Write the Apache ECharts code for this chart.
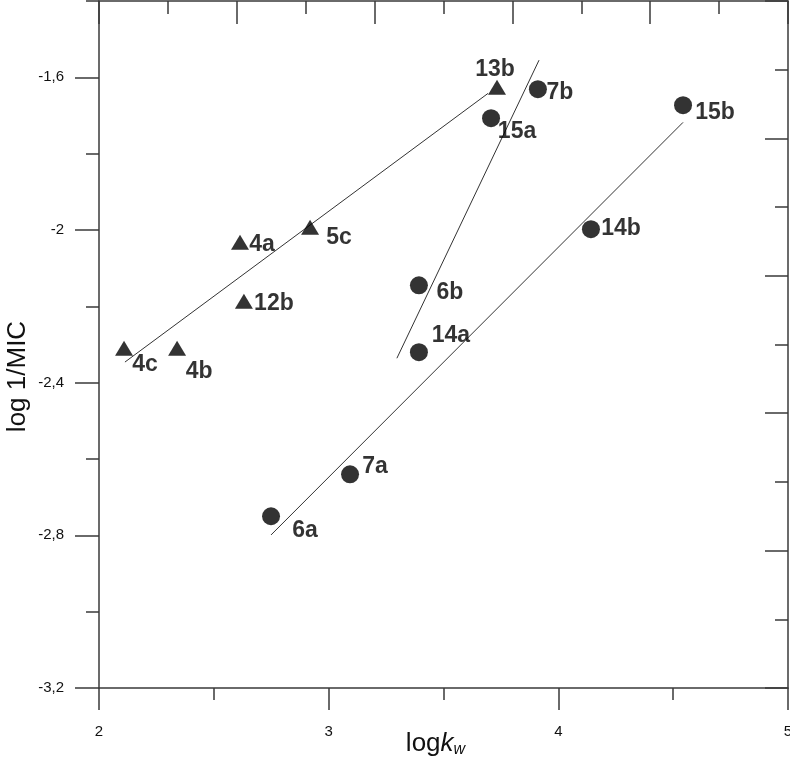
<!DOCTYPE html>
<html>
<head>
<meta charset="utf-8">
<script src="https://cdn.jsdelivr.net/npm/echarts@6/dist/echarts.min.js"></script>
<style>
html,body{margin:0;padding:0;background:#fff;}
#chart{width:790px;height:760px;}
</style>
</head>
<body>
<div id="chart"></div>
<script>
// ---- data ----
const triLabels = ['4c', '4b', '4a', '12b', '5c', '13b'];
const triX = [2.109, 2.340, 2.614, 2.631, 2.919, 3.733];
const triY = [-2.310, -2.310, -2.032, -2.187, -1.993, -1.626];

const cirLabels = ['15a', '7b', '15b', '14b', '6b', '14a', '7a', '6a'];
const cirX = [3.707, 3.911, 4.543, 4.142, 3.393, 3.393, 3.093, 2.749];
const cirY = [-1.707, -1.631, -1.673, -1.998, -2.145, -2.320, -2.640, -2.750];

const fit1X = [2.113, 3.694];
const fit1Y = [-2.346, -1.642];
const fit2X = [3.297, 3.916];
const fit2Y = [-2.336, -1.555];
const fit3X = [2.749, 4.543];
const fit3Y = [-2.799, -1.718];

const yMajorTicks = [-3.2, -2.8, -2.4, -2, -1.6];
const yMinorTicks = [-3.0, -2.6, -2.2, -1.8, -1.4];

// ---- layout (label offsets in px, not data) ----
const labelOffset = {
  '4c': [21, 16], '4b': [22, 23], '4a': [22, 2], '12b': [30, 2], '5c': [29, 10], '13b': [-2, -18],
  '15a': [26, 13], '7b': [22, 3], '15b': [32, 7], '14b': [30, -1], '6b': [31, 7], '14a': [32, -16],
  '7a': [25, -8], '6a': [34, 14]
};

const FONT = '"Liberation Sans", Arial, sans-serif';
const AXIS_COLOR = '#3a3a3a';
const TEXT_COLOR = '#111';

function pts(labels, xs, ys) {
  return labels.map((n, i) => ({
    name: n,
    value: [xs[i], ys[i]],
    label: { offset: labelOffset[n] }
  }));
}
function linePts(xs, ys) { return xs.map((x, i) => [x, ys[i]]); }

const markLabel = {
  show: true,
  position: 'inside',
  formatter: p => p.name,
  color: '#000',
  fontFamily: FONT,
  fontWeight: 'bold',
  fontSize: 23,
  align: 'center',
  verticalAlign: 'middle'
};

const fitStyle = { color: '#333', width: 1 };

const chart = echarts.init(document.getElementById('chart'), null, { renderer: 'canvas' });
chart.setOption({
  animation: false,
  backgroundColor: '#fff',
  grid: { left: 99, right: 2, top: 1, bottom: 72, containLabel: false, outerBoundsMode: 'none' },
  xAxis: [
    {
      type: 'value', position: 'bottom', min: 2, max: 5, interval: 1,
      axisLine: { show: true, lineStyle: { color: AXIS_COLOR, width: 1.5 } },
      axisTick: { show: true, inside: false, length: 22, lineStyle: { color: AXIS_COLOR, width: 1.5 } },
      minorTick: { show: true, splitNumber: 2, length: 12, lineStyle: { color: AXIS_COLOR, width: 1.5 } },
      splitLine: { show: false },
      axisLabel: { margin: 36, fontSize: 15, color: TEXT_COLOR, fontFamily: FONT },
      name: 'log{k|k}{w|w}',
      nameLocation: 'middle',
      nameMoveOverlap: false,
      nameGap: 41,
      nameTextStyle: {
        fontSize: 26, color: TEXT_COLOR, fontFamily: FONT, padding: [0, 16, 0, 0],
        rich: {
          k: { fontSize: 26, fontStyle: 'italic', color: TEXT_COLOR, fontFamily: FONT },
          w: { fontSize: 16, fontStyle: 'italic', color: TEXT_COLOR, fontFamily: FONT, verticalAlign: 'bottom', padding: [13, 0, 0, 0] }
        }
      }
    },
    {
      type: 'value', position: 'top', min: 0, max: 5, interval: 1,
      axisLine: { show: true, lineStyle: { color: AXIS_COLOR, width: 1.5 } },
      axisTick: { show: true, inside: true, length: 23, lineStyle: { color: AXIS_COLOR, width: 1.5 } },
      minorTick: { show: true, splitNumber: 2, length: 13, lineStyle: { color: AXIS_COLOR, width: 1.5 } },
      splitLine: { show: false },
      axisLabel: { show: false }
    }
  ],
  yAxis: [
    {
      type: 'value', position: 'left', min: -3.2, max: -1.4, interval: 0.2,
      axisLine: { show: true, lineStyle: { color: AXIS_COLOR, width: 1.5 } },
      axisTick: { show: true, inside: false, length: 24, customValues: yMajorTicks, lineStyle: { color: AXIS_COLOR, width: 1.5 } },
      splitLine: { show: false },
      axisLabel: {
        customValues: yMajorTicks,
        margin: 35, fontSize: 15, color: TEXT_COLOR, fontFamily: FONT,
        formatter: v => String(Math.round(v * 10) / 10).replace('.', ',')
      },
      name: 'log 1/MIC',
      nameLocation: 'middle',
      nameMoveOverlap: false,
      nameRotate: 90,
      nameGap: 68,
      nameTextStyle: { fontSize: 26, color: TEXT_COLOR, fontFamily: FONT, padding: [0, 64, 0, 0] }
    },
    {
      type: 'value', position: 'left', min: -3.2, max: -1.4, interval: 0.2,
      axisLine: { show: false },
      axisTick: { show: true, inside: false, length: 13, customValues: yMinorTicks, lineStyle: { color: AXIS_COLOR, width: 1.5 } },
      splitLine: { show: false },
      axisLabel: { show: false }
    },
    {
      type: 'value', position: 'right', min: 0, max: 5, interval: 1,
      axisLine: { show: true, lineStyle: { color: AXIS_COLOR, width: 1.5 } },
      axisTick: { show: true, inside: true, length: 23, lineStyle: { color: AXIS_COLOR, width: 1.5 } },
      minorTick: { show: true, splitNumber: 2, length: 13, lineStyle: { color: AXIS_COLOR, width: 1.5 } },
      splitLine: { show: false },
      axisLabel: { show: false }
    }
  ],
  series: [
    { type: 'line', data: linePts(fit1X, fit1Y), showSymbol: false, symbol: 'none', lineStyle: fitStyle, z: 2, silent: true },
    { type: 'line', data: linePts(fit2X, fit2Y), showSymbol: false, symbol: 'none', lineStyle: fitStyle, z: 2, silent: true },
    { type: 'line', data: linePts(fit3X, fit3Y), showSymbol: false, symbol: 'none', lineStyle: fitStyle, z: 2, silent: true },
    {
      type: 'scatter', data: pts(triLabels, triX, triY),
      symbol: 'triangle', symbolSize: [18, 15],
      itemStyle: { color: '#000' }, label: markLabel, z: 3
    },
    {
      type: 'scatter', data: pts(cirLabels, cirX, cirY),
      symbol: 'circle', symbolSize: 18,
      itemStyle: { color: '#000' }, label: markLabel, z: 3
    }
  ]
});
</script>
</body>
</html>
